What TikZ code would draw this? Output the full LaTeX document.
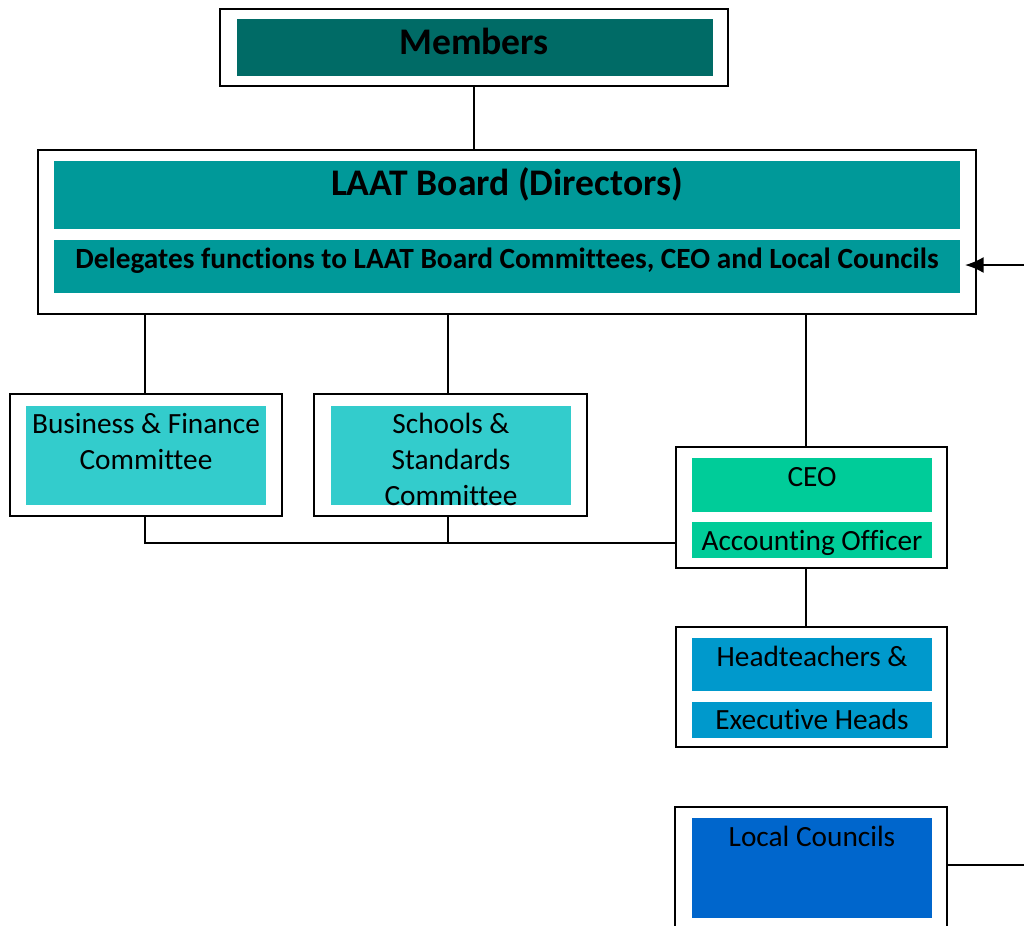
\documentclass[tikz,border=0pt]{standalone}
\usepackage{fontspec}
\setmainfont{Carlito}[Ligatures={NoCommon}]
\usetikzlibrary{arrows.meta,fit}
\definecolor{membc}{RGB}{0,107,102}
\definecolor{boardc}{RGB}{0,153,153}
\definecolor{commc}{RGB}{51,204,204}
\definecolor{ceoc}{RGB}{0,204,153}
\definecolor{headc}{RGB}{0,153,204}
\definecolor{localc}{RGB}{0,102,204}
\begin{document}
\begin{tikzpicture}[x=0.75pt,y=-0.75pt,
  outerbox/.style={draw=black, line width=1.5pt, fill=white, inner sep=0pt, outer sep=0pt},
  fillbox/.style={fill=#1, draw=none, inner sep=0pt, outer sep=0pt},
  txt/.style={inner sep=0pt, anchor=base, font=\fontsize{22}{27}\selectfont},
  bigtxt/.style={inner sep=0pt, anchor=base, font=\fontsize{28.2}{33}\selectfont\bfseries},
  deltxt/.style={inner sep=0pt, anchor=base, font=\fontsize{22}{26}\selectfont\bfseries},
  conn/.style={draw=black, line width=1.5pt}]
\clip (0,0) rectangle (1024,925);
\fill[white] (0,0) rectangle (1024,925);
% boxes
\node[outerbox, fit={(220,9)(728,86)}] (members) {};
\node[fillbox=membc, fit={(237,19)(713,76)}] (membersf) {};
\node[bigtxt] (memberst) at (474,54) {Members};

\node[outerbox, fit={(38,150)(976,314)}] (board) {};
\node[fillbox=boardc, fit={(54,161)(960,229)}] (boarda) {};
\node[fillbox=boardc, fit={(54,240)(960,293)}] (boardb) {};
\node[bigtxt] (boardt) at (507,195) {LAAT Board (Directors)};
\node[deltxt] (delt) at (507,268) {Delegates functions to LAAT Board Committees, CEO and Local Councils};

\node[outerbox, fit={(10,394)(282,516)}] (bf) {};
\node[fillbox=commc, fit={(26,406)(266,505)}] (bff) {};
\node[txt] (bft1) at (146,433) {Business \& Finance};
\node[txt] (bft2) at (146,469) {Committee};

\node[outerbox, fit={(314,394)(587,516)}] (sc) {};
\node[fillbox=commc, fit={(331,406)(571,505)}] (scf) {};
\node[txt] (sct1) at (451,433) {Schools \&};
\node[txt] (sct2) at (451,469) {Standards};
\node[txt] (sct3) at (451,505) {Committee};

\node[outerbox, fit={(676,447)(947,568)}] (ceo) {};
\node[fillbox=ceoc, fit={(692,458)(932,512)}] (ceoa) {};
\node[fillbox=ceoc, fit={(692,522)(932,558)}] (ceob) {};
\node[txt] (ceot) at (812,486) {CEO};
\node[txt] (aot) at (812,550) {Accounting Officer};

\node[outerbox, fit={(676,627)(947,747)}] (heads) {};
\node[fillbox=headc, fit={(692,638)(932,691)}] (headsa) {};
\node[fillbox=headc, fit={(692,702)(932,738)}] (headsb) {};
\node[txt] (headst1) at (812,666) {Headteachers \&};
\node[txt] (headst2) at (812,729) {Executive Heads};

\node[outerbox, fit={(675,807)(947,940)}] (local) {};
\node[fillbox=localc, fit={(692,818)(932,918)}] (localf) {};
\node[txt] (localt) at (812,846) {Local Councils};

% connectors
\coordinate (bx) at (145,0);
\coordinate (sx) at (448,0);
\coordinate (cx) at (806,0);
\coordinate (by) at (0,543);
\coordinate (ae) at (1024,265);
\coordinate (at) at (965,265);
\coordinate (le) at (1024,865);
\draw[conn] (members.south) -- (members.south |- board.north);
\draw[conn] (bx |- bf.north) -- (bx |- board.south);
\draw[conn] (sx |- sc.north) -- (sx |- board.south);
\draw[conn] (cx |- ceo.north) -- (cx |- board.south);
\draw[conn] (bx |- bf.south) -- (bx |- by) -- (by -| ceo.west);
\draw[conn] (sx |- sc.south) -- (sx |- by);
\draw[conn] (cx |- ceo.south) -- (cx |- heads.north);
\draw[conn, -{Latex[length=14pt,width=12pt]}] (ae) -- (at);
\draw[conn] (le -| local.east) -- (le);
\end{tikzpicture}
\end{document}
